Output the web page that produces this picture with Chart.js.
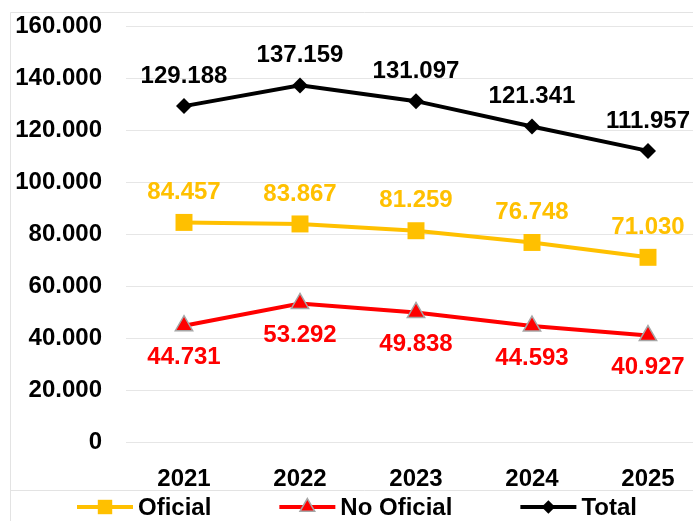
<!DOCTYPE html>
<html>
<head>
<meta charset="utf-8">
<script src="https://cdn.jsdelivr.net/npm/chart.js@4/dist/chart.umd.min.js"></script>
<style>
  html, body { margin: 0; padding: 0; background: #fff; overflow: hidden; }
  #wrap { width: 718px; height: 521px; }
</style>
</head>
<body>
<div id="wrap"><canvas id="chart" width="718" height="521"></canvas></div>
<script>
const years = ["2021", "2022", "2023", "2024", "2025"];
const oficial = [84457, 83867, 81259, 76748, 71030];
const noOficial = [44731, 53292, 49838, 44593, 40927];
const total = [129188, 137159, 131097, 121341, 111957];
const yMin = 0;
const yMax = 160000;
const yStep = 20000;

const FONT = "'Liberation Sans', Arial, sans-serif";

function fmt(v) {
  return String(v).replace(/\B(?=(\d{3})+(?!\d))/g, ".");
}

// frame lines like the original chart box
const framePlugin = {
  id: "frame",
  beforeDraw(chart) {
    const ctx = chart.ctx;
    ctx.save();
    ctx.strokeStyle = "#e3e3e3";
    ctx.lineWidth = 1;
    ctx.beginPath();
    ctx.moveTo(10.5, 521);
    ctx.lineTo(10.5, 12.5);
    ctx.lineTo(chart.width, 12.5);
    ctx.moveTo(10.5, 490.5);
    ctx.lineTo(chart.width, 490.5);
    ctx.stroke();
    ctx.restore();
  }
};

// value labels next to each point
const labelPlugin = {
  id: "valueLabels",
  afterDatasetsDraw(chart) {
    const ctx = chart.ctx;
    ctx.save();
    ctx.font = "bold 24px " + FONT;
    ctx.textAlign = "center";
    ctx.textBaseline = "middle";
    chart.data.datasets.forEach((ds, i) => {
      const meta = chart.getDatasetMeta(i);
      ctx.fillStyle = ds.borderColor;
      meta.data.forEach((pt, j) => {
        ctx.fillText(fmt(ds.data[j]), pt.x, pt.y + ds.labelOffset);
      });
    });
    ctx.restore();
  }
};

// legend with line + marker samples
const legendPlugin = {
  id: "lineLegend",
  afterDraw(chart) {
    const ctx = chart.ctx;
    const y = 507;
    let x = 77;
    ctx.save();
    ctx.font = "bold 24px " + FONT;
    ctx.textBaseline = "middle";
    ctx.textAlign = "left";
    chart.data.datasets.forEach((ds) => {
      ctx.strokeStyle = ds.borderColor;
      ctx.lineWidth = ds.borderWidth;
      ctx.beginPath();
      ctx.moveTo(x, y);
      ctx.lineTo(x + 56, y);
      ctx.stroke();
      ctx.fillStyle = ds.pointBackgroundColor;
      ctx.strokeStyle = ds.pointBorderColor;
      ctx.lineWidth = ds.pointBorderWidth;
      Chart.helpers.drawPoint(ctx, {
        pointStyle: ds.pointStyle,
        radius: ds.pointRadius * 0.85,
        borderWidth: ds.pointBorderWidth
      }, x + 28, y);
      ctx.fillStyle = "#000";
      ctx.fillText(ds.label, x + 61, y + 1);
      x += 61 + ctx.measureText(ds.label).width + 68;
    });
    ctx.restore();
  }
};

new Chart(document.getElementById("chart"), {
  type: "line",
  data: {
    labels: years,
    datasets: [
      {
        label: "Oficial",
        data: oficial,
        borderColor: "#FFC000",
        backgroundColor: "#FFC000",
        borderWidth: 4,
        pointStyle: "rect",
        pointRadius: 12,
        pointHoverRadius: 12,
        pointBackgroundColor: "#FFC000",
        pointBorderColor: "#FFC000",
        pointBorderWidth: 0,
        labelOffset: -30,
        tension: 0
      },
      {
        label: "No Oficial",
        data: noOficial,
        borderColor: "#FF0000",
        backgroundColor: "#FF0000",
        borderWidth: 4,
        pointStyle: "triangle",
        pointRadius: 10,
        pointHoverRadius: 10,
        pointBackgroundColor: "#FF0000",
        pointBorderColor: "#A6A6A6",
        pointBorderWidth: 1.5,
        labelOffset: 32,
        tension: 0
      },
      {
        label: "Total",
        data: total,
        borderColor: "#000000",
        backgroundColor: "#000000",
        borderWidth: 4,
        pointStyle: "rectRot",
        pointRadius: 8,
        pointHoverRadius: 8,
        pointBackgroundColor: "#000000",
        pointBorderColor: "#000000",
        pointBorderWidth: 0,
        labelOffset: -30,
        tension: 0
      }
    ]
  },
  options: {
    responsive: false,
    animation: false,
    layout: { padding: { left: 15, right: 0, top: 26, bottom: 35 } },
    plugins: {
      legend: { display: false },
      tooltip: { enabled: false }
    },
    scales: {
      x: {
        offset: true,
        grid: { display: false },
        border: { display: false },
        ticks: { color: "#000", font: { family: FONT, size: 24, weight: "bold" }, padding: 15 },
        afterFit(scale) { scale.height = 44; scale.paddingLeft = 0; scale.paddingRight = 0; }
      },
      y: {
        min: yMin,
        max: yMax,
        border: { display: false },
        grid: { color: "#e6e6e6", lineWidth: 1, drawTicks: false },
        ticks: {
          stepSize: yStep,
          color: "#000",
          font: { family: FONT, size: 24, weight: "bold" },
          padding: 24,
          callback: (v) => fmt(v)
        },
        afterFit(scale) { scale.width = 111; scale.paddingTop = 0; scale.paddingBottom = 0; }
      }
    }
  },
  plugins: [framePlugin, labelPlugin, legendPlugin]
});
</script>
</body>
</html>
